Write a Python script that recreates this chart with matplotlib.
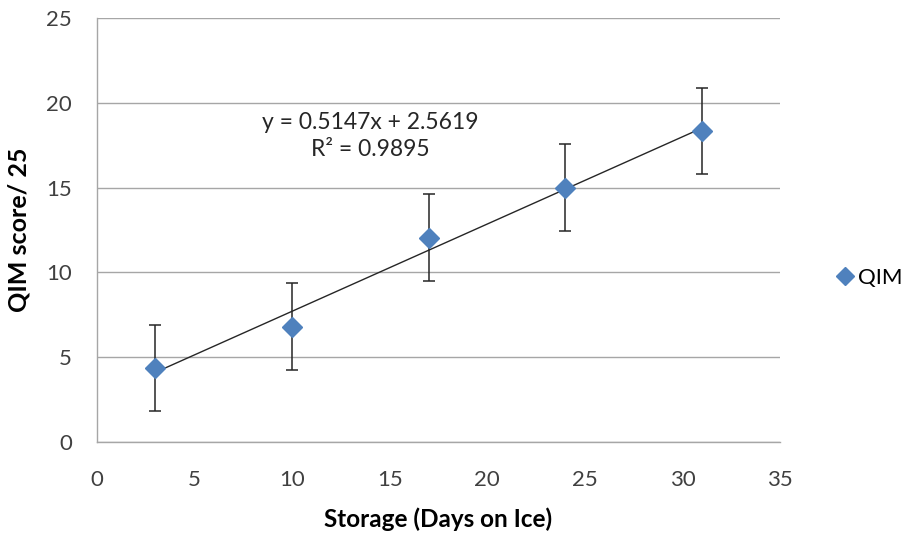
import numpy as np
import matplotlib
matplotlib.use('Agg')
from matplotlib import pyplot as plt

# storage time and QIM scores
days = [3, 10, 17, 24, 31]
qim = [4.36, 6.80, 12.05, 15.0, 18.34]
qim_err = [2.56, 2.56, 2.55, 2.55, 2.56]

# linear trendline as printed on the chart
slope = 0.5147
intercept = 2.5619
r2 = 0.9895

x_ticks = [0, 5, 10, 15, 20, 25, 30, 35]
y_ticks = [0, 5, 10, 15, 20, 25]

plt.rcParams['font.family'] = ['Lato', 'DejaVu Sans']

blue = '#4F81BD'
grey = '#A6A6A6'
dark = '#262626'

fig = plt.figure(figsize=(9.06, 5.35), dpi=100)
ax = fig.add_axes([0.107, 0.174, 0.754, 0.792])

ax.errorbar(days, qim, yerr=qim_err, fmt='none', ecolor=dark,
            elinewidth=1.1, capsize=4.5, capthick=1.1, zorder=3)

x_fit = np.array([days[0], days[-1]])
ax.plot(x_fit, slope * x_fit + intercept, color=dark, lw=1.0, zorder=4)

ax.plot(days, qim, linestyle='none', marker='D', ms=10, color=blue,
        label='QIM', zorder=5)

ax.text(14.0, 18.05,
        'y = %.4fx + %.4f\nR\u00b2 = %.4f' % (slope, intercept, r2),
        fontsize=16.5, color=dark, ha='center', va='center',
        linespacing=1.3,
        bbox=dict(facecolor='white', edgecolor='none', pad=5), zorder=6)

ax.set_xlim(0, 35)
ax.set_ylim(0, 25)
ax.set_xticks(x_ticks)
ax.set_yticks(y_ticks)
ax.tick_params(length=0, labelsize=16, colors='#404040')
ax.tick_params(axis='x', pad=20)
ax.tick_params(axis='y', pad=18)
ax.yaxis.grid(True, color=grey, lw=1.0)
ax.set_axisbelow(True)
for side in ['top', 'right']:
    ax.spines[side].set_visible(False)
for side in ['left', 'bottom']:
    ax.spines[side].set_color(grey)
    ax.spines[side].set_linewidth(1.0)

ax.set_xlabel('Storage (Days on Ice)', fontsize=17.5, fontweight='bold',
              labelpad=13)
ax.set_ylabel('QIM score/ 25', fontsize=18, fontweight='bold', labelpad=11)

ax.legend(loc='center left', bbox_to_anchor=(1.069, 0.387), frameon=False,
          fontsize=16, handlelength=0.8, handletextpad=0.2,
          borderaxespad=0, markerscale=0.9)

plt.savefig('out.png', dpi=100)
